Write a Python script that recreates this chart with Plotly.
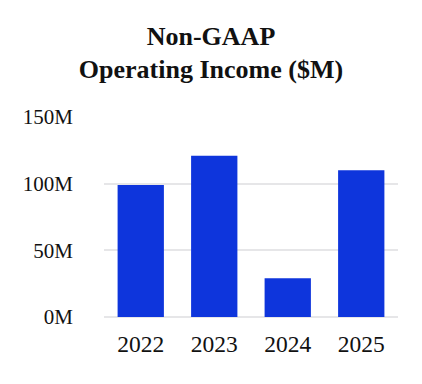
import plotly.graph_objects as go

years = ["2022", "2023", "2024", "2025"]
income_m = [99, 121, 29, 110]
tick_vals = [0, 50, 100, 150]
tick_text = ["0M", "50M", "100M", "150M"]

fig = go.Figure(
    go.Bar(
        x=years,
        y=income_m,
        marker=dict(color="#0e35dc", line=dict(width=0)),
        hoverinfo="skip",
    )
)

fig.update_layout(
    width=422,
    height=384,
    margin=dict(l=104, r=24, t=117, b=67),
    paper_bgcolor="white",
    plot_bgcolor="white",
    bargap=0.37,
    showlegend=False,
    font=dict(family="Liberation Serif, Times New Roman, serif", color="#111111"),
    title=dict(
        text="<b>Non-GAAP<br>Operating Income ($M)</b>",
        x=0.5,
        xref="container",
        xanchor="center",
        y=0.884,
        yref="container",
        yanchor="top",
        font=dict(size=26, family="Liberation Serif, Times New Roman, serif", color="#111111"),
    ),
)

fig.update_xaxes(
    showgrid=False,
    showline=False,
    zeroline=False,
    tickfont=dict(size=23.5),
    ticklabelstandoff=10,
)
fig.update_yaxes(
    range=[0, 150],
    tickvals=tick_vals,
    ticktext=tick_text,
    showgrid=True,
    gridcolor="#e6e6e8",
    gridwidth=1.5,
    zeroline=True,
    zerolinecolor="#e6e6e8",
    zerolinewidth=1.5,
    showline=False,
    tickfont=dict(size=21),
    ticklabelstandoff=30,
)

fig.write_html(
    "out.html",
    config={"displayModeBar": False},
    post_script="document.body.style.margin='0';document.body.style.overflow='hidden';",
)
